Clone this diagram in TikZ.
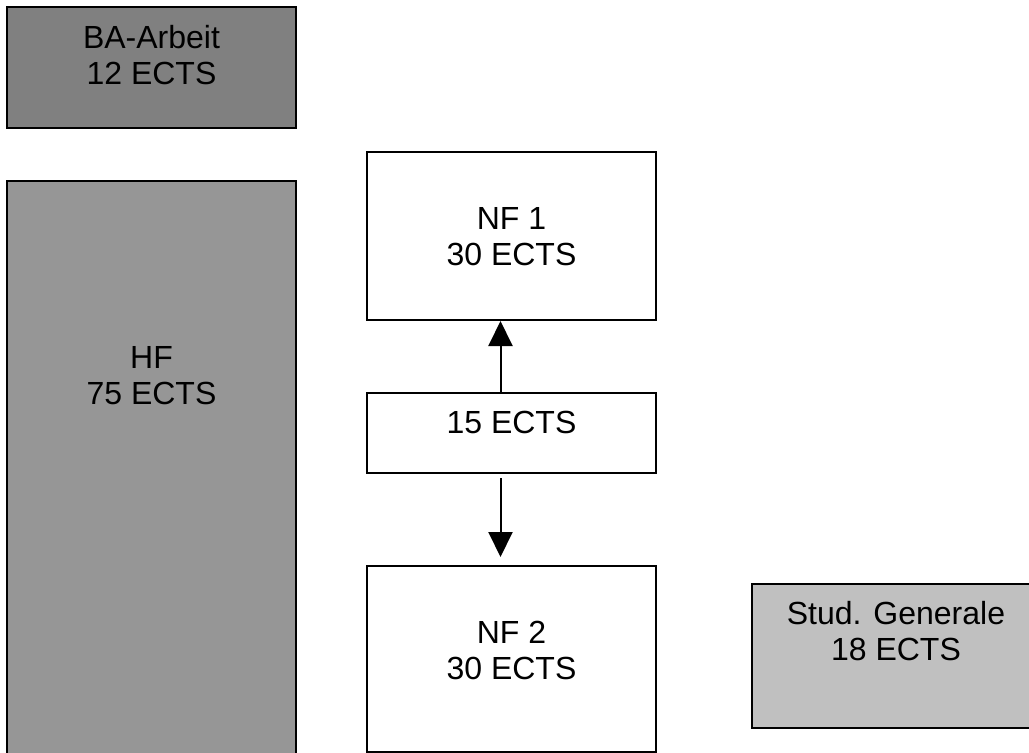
\documentclass[tikz,border=0pt]{standalone}
\usepackage{fontspec}
\setmainfont{Liberation Sans}
\usetikzlibrary{arrows.meta}
\definecolor{darkbox}{HTML}{808080}
\definecolor{midbox}{HTML}{969696}
\definecolor{lightbox}{HTML}{C0C0C0}

\begin{document}
\begin{tikzpicture}[x=0.75pt,y=-0.75pt,
  box/.style={draw=black,line width=1.5pt,inner sep=0pt,align=center,
    minimum width=216.75pt,font=\fontsize{24pt}{27pt}\selectfont},
  textat/.style 2 args={text height=#1,text depth=#2},
  link/.style={-{Triangle[length=18.75pt,width=18pt]},line width=1.5pt}]
  \useasboundingbox (0,0) rectangle (1029,753);
  \clip (0,0) rectangle (1029,753);
  % left column
  \node[box,fill=darkbox,minimum height=90.75pt,textat={24.75pt}{0pt}] (ba) at (151.5,67.5) {BA-Arbeit\\12 ECTS};
  \node[box,fill=midbox,minimum height=464.25pt,textat={0pt}{129.75pt}] (hf) at (151.5,490.5) {HF\\75 ECTS};
  % minor subjects
  \node[box,fill=white,minimum height=126pt,textat={43.5pt}{0pt}] (nf1) at (511.5,236) {NF 1\\30 ECTS};
  \node[box,fill=white,minimum height=60pt,textat={0pt}{0pt}] (pool) at (511.5,433) {15 ECTS};
  \node[box,fill=white,minimum height=139.5pt,textat={30pt}{0pt}] (nf2) at (511.5,659) {NF 2\\30 ECTS};
  % studium generale
  \node[box,fill=lightbox,minimum width=216pt,minimum height=108pt,textat={6pt}{0pt}] (sg) at (896,656) {Stud. Generale\\18 ECTS};
  % pool goes to either minor
  \draw[link] ([xshift=-8.25pt]pool.north) -- ([xshift=-8.25pt]nf1.south);
  \draw[link,shorten <=3pt,shorten >=6pt] ([xshift=-8.25pt]pool.south) -- ([xshift=-8.25pt]nf2.north);
\end{tikzpicture}
\end{document}
